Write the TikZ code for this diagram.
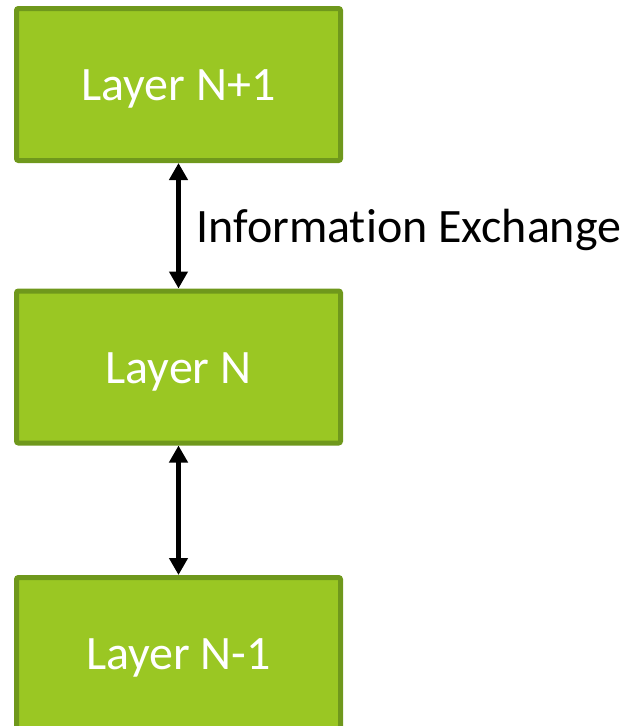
\documentclass[tikz,border=0pt]{standalone}
\usepackage{fontspec}
\setmainfont[Ligatures=NoCommon]{Carlito}
\usetikzlibrary{arrows.meta}
\definecolor{layerfill}{HTML}{9AC723}
\definecolor{layerline}{HTML}{6F981C}
\begin{document}
\begin{tikzpicture}[x=1pt,y=-1pt,
  layerbox/.style={draw=layerline,fill=layerfill,line width=5pt,rounded corners=2pt,
    minimum width=324pt,minimum height=152pt,inner sep=0pt,text=white,
    text height=32pt,text depth=0pt,font=\fontsize{48}{54}\selectfont},
  link/.style={line width=5pt,{Triangle[length=17pt,width=18pt]}-{Triangle[length=17pt,width=18pt]}}]
\useasboundingbox (0,0) rectangle (625,726);
\node[layerbox] (top) at (178.5,84.5) {Layer N+1};
\node[layerbox] (mid) at (178.5,367) {Layer N};
\node[layerbox] (bot) at (178.5,653.5) {Layer N-1};
\draw[link] (top) -- node[right=12pt,yshift=-2pt,text height=30pt,text depth=0pt,
  font=\fontsize{48}{54}\selectfont,text=black] {Information Exchange} (mid);
\draw[link] (mid) -- (bot);
\end{tikzpicture}
\end{document}
